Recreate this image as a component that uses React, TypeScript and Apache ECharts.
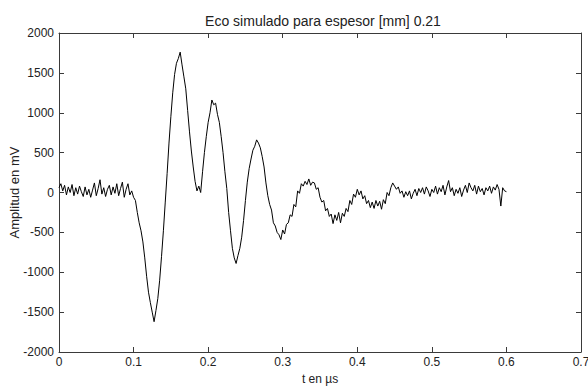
import React, { useEffect, useRef } from "react";
import * as echarts from "echarts";

const TITLE = "Eco simulado para espesor [mm] 0.21";
const X_LABEL = "t en µs";
const Y_LABEL = "Amplitud en mV";
const X_TICKS = [0, 0.1, 0.2, 0.3, 0.4, 0.5, 0.6, 0.7];
const Y_TICKS = [-2000, -1500, -1000, -500, 0, 500, 1000, 1500, 2000];
const SAMPLE_STEP_US = 0.0025;
// amplitude in mV, sampled every 0.0025 µs from t = 0
const AMPLITUDE_MV = [
  60, 110, 20, 90, -30, 70, 0, 100, -40, 60,
  -20, 80, 10, -50, 70, -30, 40, -60, 30, 120,
  -40, 50, 160, -20, 60, -50, 40, 90, -30, 70,
  -10, 110, -40, 50, 130, -60, 40, 110, -30, 20,
  -60, -100, -250, -380, -480, -620, -820, -1050, -1250, -1380,
  -1500, -1620, -1480, -1330, -1100, -800, -480, -120, 240, 620,
  950, 1250, 1480, 1620, 1680, 1760, 1600, 1450, 1300, 1030,
  760, 520, 320, 140, 20, 80, 0, 260, 500, 700,
  880, 1000, 1160, 1100, 1120, 980, 880, 700, 500, 260,
  50, -250, -480, -700, -820, -890, -790, -700, -560, -350,
  -100, 130, 300, 420, 530, 580, 660, 620, 560, 450,
  320, 120, -40, -150, -220, -380, -420, -500, -530, -590,
  -470, -520, -400, -380, -280, -300, -150, -180, 20, -10,
  110, 80, 140, 100, 170, 90, 130, 120, 40, 60,
  -60, -120, -100, -230, -200, -300, -270, -390, -280, -350,
  -250, -380, -260, -300, -200, -240, -100, -150, -20, -60,
  40, -30, 20, -80, -40, -140, -100, -190, -120, -200,
  -100, -170, -110, -210, -90, -140, 0, -40, 60, 120,
  80, 40, 70, -10, 20, -60, 10, -40, 20, -80,
  -10, 40, -40, 50, 0, 60, -20, 70, 20, -50,
  40, 0, 80, -20, 60, 10, 90, -30, 70, 150,
  10, 60, -40, 40, -10, 60, -50, 30, 90, 0,
  120, 60, 20, 90, -20, 80, 10, 50, -30, 60,
  20, 80, -10, 70, 30, 100, 40, -170, 60, 20,
  10,
];

const FONT = "'Liberation Sans', Arial, sans-serif";
const AXIS_COLOR = "#3a3a3a";
const TEXT_COLOR = "#222";

export default function App() {
  const ref = useRef<HTMLDivElement>(null);
  useEffect(() => {
    if (!ref.current) return;
    const chart = echarts.init(ref.current, null, { renderer: "svg" });
    const data = AMPLITUDE_MV.map((v, i) => [+(i * SAMPLE_STEP_US).toFixed(4), v]);
    const xMin = X_TICKS[0];
    const xMax = X_TICKS[X_TICKS.length - 1];
    const yMin = Y_TICKS[0];
    const yMax = Y_TICKS[Y_TICKS.length - 1];
    const axisLine = { show: true, onZero: false, lineStyle: { color: AXIS_COLOR, width: 1 } };
    const tick = { show: true, inside: true, length: 5, lineStyle: { color: AXIS_COLOR } };
    chart.setOption({
      animation: false,
      backgroundColor: "#fff",
      title: {
        text: TITLE,
        left: 318,
        top: 9,
        textAlign: "center",
        textStyle: { fontFamily: FONT, fontSize: 14, fontWeight: "normal", color: TEXT_COLOR },
      },
      grid: {
        left: 59,
        top: 33,
        right: 7,
        bottom: 36,
        containLabel: false,
        outerBoundsMode: "none",
      },
      xAxis: [
        {
          type: "value",
          min: xMin,
          max: xMax,
          interval: 0.1,
          position: "bottom",
          name: X_LABEL,
          nameLocation: "middle",
          nameGap: 21,
          nameTextStyle: { fontFamily: FONT, fontSize: 12, color: TEXT_COLOR },
          axisLine,
          axisTick: tick,
          axisLabel: {
            fontFamily: FONT,
            fontSize: 12,
            color: TEXT_COLOR,
            margin: 4,
            formatter: (v: number) => String(+v.toFixed(1)),
          },
          splitLine: { show: false },
        },
        {
          type: "value",
          min: xMin,
          max: xMax,
          interval: 0.1,
          position: "top",
          axisLine,
          axisTick: tick,
          axisLabel: { show: false },
          splitLine: { show: false },
        },
      ],
      yAxis: [
        {
          type: "value",
          min: yMin,
          max: yMax,
          interval: 500,
          position: "left",
          name: Y_LABEL,
          nameLocation: "middle",
          nameGap: 38,
          nameMoveOverlap: false,
          nameRotate: 90,
          nameTextStyle: { fontFamily: FONT, fontSize: 13, color: TEXT_COLOR },
          axisLine,
          axisTick: tick,
          axisLabel: {
            fontFamily: FONT,
            fontSize: 12,
            color: TEXT_COLOR,
            margin: 5,
            formatter: (v: number) => String(v),
          },
          splitLine: { show: false },
        },
        {
          type: "value",
          min: yMin,
          max: yMax,
          interval: 500,
          position: "right",
          axisLine,
          axisTick: tick,
          axisLabel: { show: false },
          splitLine: { show: false },
        },
      ],
      series: [
        {
          type: "line",
          xAxisIndex: 0,
          yAxisIndex: 0,
          data,
          showSymbol: false,
          symbol: "none",
          lineStyle: { color: "#000", width: 1 },
        },
      ],
    });
    return () => chart.dispose();
  }, []);
  return <div ref={ref} style={{ width: 588, height: 388, position: "absolute", left: 0, top: 0 }} />;
}
